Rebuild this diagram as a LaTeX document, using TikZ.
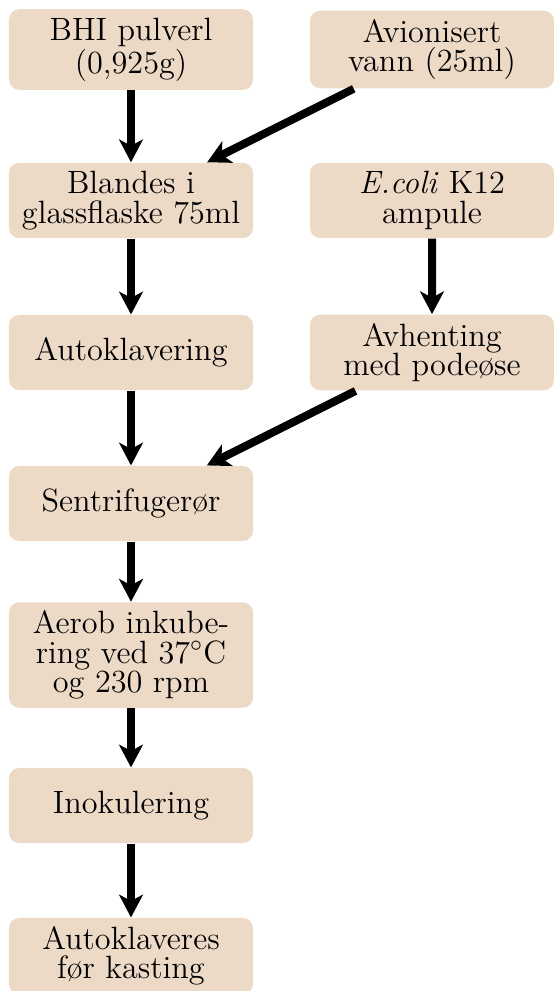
\documentclass[tikz,border=0pt]{standalone}
\usepackage{amsmath,amssymb,xcolor}
\usepackage{tikz}
\usetikzlibrary{positioning}
\usetikzlibrary{shapes.geometric,arrows.meta,fit,positioning}
\definecolor{boxfill}{RGB}{236,218,199}

\begin{document}
\begin{tikzpicture}[scale=0.13623]
\tikzstyle{proc}=[rectangle, rounded corners=4pt, fill=boxfill, align=center,
  minimum width=94.6pt, minimum height=29.1pt, inner sep=3.3pt,
  font=\fontsize{12.5}{11.4}\selectfont]
\tikzstyle{flow}=[line width=3.1pt, -{Stealth[length=8.8pt,width=9.2pt,inset=2.4pt]}]
\useasboundingbox (0,0) rectangle (55.3,-99.1);
\node [proc] (bhi) at (13.1,-4.95) {BHI pulverl\\(0,925g)};
\node [proc] (vann) at (43.2,-4.95) {Avionisert\\vann (25ml)};
\node [proc] (bland) at (13.1,-20.05) {Blandes i\\glassflaske 75ml};
\node [proc] (ecoli) at (43.2,-20.05) {\emph{E.coli} K12\\ampule};
\node [proc] (autokl) at (13.1,-35.25) {Autoklavering};
\node [proc] (hent) at (43.2,-35.25) {Avhenting\\med podeøse};
\node [proc] (sentr) at (13.1,-50.35) {Sentrifugerør};
\node [proc] (inkub) at (13.1,-65.5) {Aerob inkube-\\ring ved 37$^\circ$C\\og 230 rpm};
\node [proc] (inok) at (13.1,-80.55) {Inokulering};
\node [proc] (kast) at (13.1,-95.6) {Autoklaveres\\før kasting};
% arrows
\draw [flow] (bhi) -- (bland);
\draw [flow] (vann) -- (bland);
\draw [flow] (bland) -- (autokl);
\draw [flow] (ecoli) -- (hent);
\draw [flow] (autokl) -- (sentr);
\draw [flow] (hent) -- (sentr);
\draw [flow] (sentr) -- (inkub);
\draw [flow] (inkub) -- (inok);
\draw [flow] (inok) -- (kast);
\end{tikzpicture}
\end{document}
